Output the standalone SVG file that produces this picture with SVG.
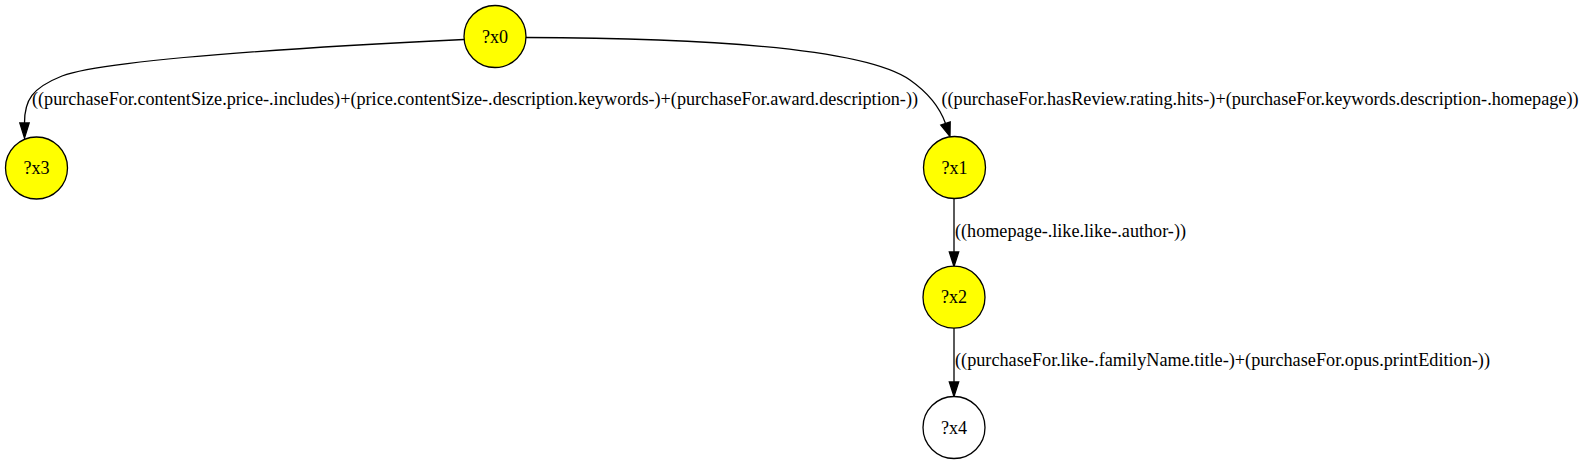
<svg xmlns="http://www.w3.org/2000/svg" width="1586" height="464" viewBox="0 0 1586 464">
<style>
.node ellipse{stroke:#000;stroke-width:1.3}
.filled{fill:#ffff00}
.empty{fill:#ffffff}
text{font-family:"Liberation Serif","Times New Roman",serif;font-size:18.1px;fill:#000}
.nl{text-anchor:middle}
.edge path{fill:none;stroke:#000;stroke-width:1.3}
.edge polygon{fill:#000;stroke:#000;stroke-width:1.3}
</style>
<rect width="1586" height="464" fill="#ffffff"/>
<g id="connectors">
  <g class="edge" id="e_x0_x3">
    <path d="M464,39.5 C330,46 110,58 62,76 C32,88 24.5,100 24.5,123"/>
    <polygon points="24.5,138 19.8,123 29.2,123"/>
    <text x="32" y="105" textLength="886" lengthAdjust="spacingAndGlyphs">((purchaseFor.contentSize.price-.includes)+(price.contentSize-.description.keywords-)+(purchaseFor.award.description-))</text>
  </g>
  <g class="edge" id="e_x0_x1">
    <path d="M526,37.5 C680,38 860,45 910,80 C930,94 940,108 945.5,123.5"/>
    <polygon points="950,136.5 950.2,121.9 940.8,125.1"/>
    <text x="941.5" y="105" textLength="637" lengthAdjust="spacingAndGlyphs">((purchaseFor.hasReview.rating.hits-)+(purchaseFor.keywords.description-.homepage))</text>
  </g>
  <g class="edge" id="e_x1_x2">
    <path d="M954,198.5 L954,252"/>
    <polygon points="954,266.5 949.3,252 958.7,252"/>
    <text x="955" y="236.5" textLength="231" lengthAdjust="spacingAndGlyphs">((homepage-.like.like-.author-))</text>
  </g>
  <g class="edge" id="e_x2_x4">
    <path d="M954,328 L954,382"/>
    <polygon points="954,396.5 949.3,382 958.7,382"/>
    <text x="955" y="365.5" textLength="535" lengthAdjust="spacingAndGlyphs">((purchaseFor.like-.familyName.title-)+(purchaseFor.opus.printEdition-))</text>
  </g>
</g>
<g class="node" id="x0">
  <ellipse class="filled" cx="495" cy="36.5" rx="31" ry="31"/>
  <text class="nl" x="495" y="42.5">?x0</text>
</g>
<g class="node" id="x3">
  <ellipse class="filled" cx="36.5" cy="168" rx="31" ry="31"/>
  <text class="nl" x="36.5" y="174">?x3</text>
</g>
<g class="node" id="x1">
  <ellipse class="filled" cx="954.5" cy="167.5" rx="31" ry="31"/>
  <text class="nl" x="954.5" y="173.5">?x1</text>
</g>
<g class="node" id="x2">
  <ellipse class="filled" cx="954" cy="297.2" rx="31" ry="31"/>
  <text class="nl" x="954" y="303.2">?x2</text>
</g>
<g class="node" id="x4">
  <ellipse class="empty" cx="954" cy="427.5" rx="31" ry="31"/>
  <text class="nl" x="954" y="433.5">?x4</text>
</g>
</svg>
